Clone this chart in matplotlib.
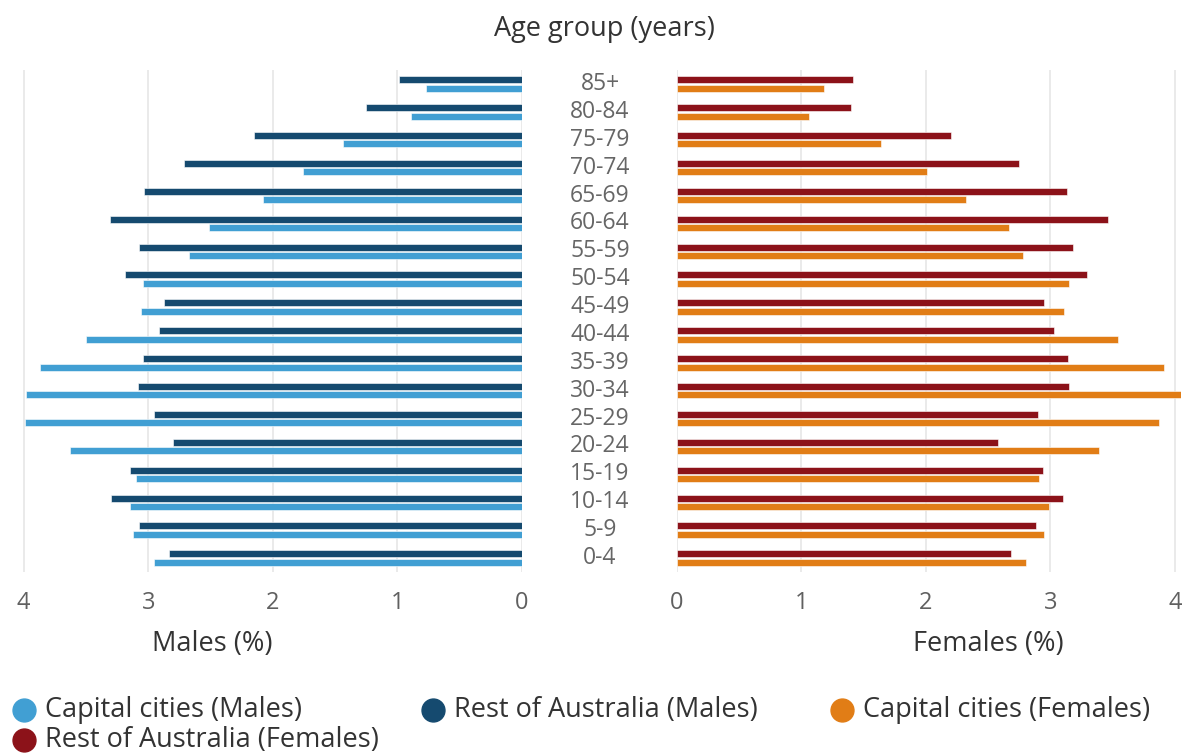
import matplotlib
matplotlib.use("Agg")
import matplotlib.pyplot as plt
import numpy as np
from matplotlib.lines import Line2D

plt.rcParams['font.family'] = ['Open Sans', 'DejaVu Sans']

# ---- data ----
age_groups = ["85+", "80-84", "75-79", "70-74", "65-69", "60-64", "55-59", "50-54",
              "45-49", "40-44", "35-39", "30-34", "25-29", "20-24", "15-19", "10-14",
              "5-9", "0-4"]
capital_males = [0.77, 0.89, 1.44, 1.76, 2.08, 2.51, 2.67, 3.04, 3.06, 3.50,
                 3.87, 3.98, 3.99, 3.63, 3.10, 3.15, 3.12, 2.95]
rest_males = [0.99, 1.25, 2.15, 2.71, 3.03, 3.31, 3.07, 3.19, 2.87, 2.91,
              3.04, 3.08, 2.95, 2.80, 3.15, 3.30, 3.07, 2.83]
capital_females = [1.18, 1.06, 1.64, 2.01, 2.32, 2.67, 2.78, 3.15, 3.11, 3.54,
                   3.91, 4.05, 3.87, 3.39, 2.91, 2.99, 2.95, 2.80]
rest_females = [1.41, 1.40, 2.20, 2.75, 3.13, 3.46, 3.18, 3.29, 2.95, 3.03,
                3.14, 3.15, 2.90, 2.58, 2.94, 3.10, 2.88, 2.68]
x_ticks = [0, 1, 2, 3, 4]
series_names = ["Capital cities (Males)", "Rest of Australia (Males)",
                "Capital cities (Females)", "Rest of Australia (Females)"]

# ---- styles ----
c_cap_m = "#419fd3"
c_rest_m = "#154a6f"
c_cap_f = "#e17d16"
c_rest_f = "#8c1219"
colors = [c_cap_m, c_rest_m, c_cap_f, c_rest_f]
W, H = 1182, 756
fig = plt.figure(figsize=(W / 100, H / 100), dpi=100)

def px_axes(x0, x1, y0, y1):
    return fig.add_axes([x0 / W, 1 - y1 / H, (x1 - x0) / W, (y1 - y0) / H])

y = np.arange(len(age_groups))
bh = 0.25
off = 0.15
xmax = 4.05

axL = px_axes(522 - xmax * 124.6, 522, 70, 572)
axR = px_axes(677, 677 + xmax * 124.5, 70, 572)

axL.barh(y - off, rest_males, height=bh, color=c_rest_m, edgecolor='white', linewidth=0.4)
axL.barh(y + off, capital_males, height=bh, color=c_cap_m, edgecolor='white', linewidth=0.4)
axR.barh(y - off, rest_females, height=bh, color=c_rest_f, edgecolor='white', linewidth=0.4)
axR.barh(y + off, capital_females, height=bh, color=c_cap_f, edgecolor='white', linewidth=0.4)

axL.set_xlim(xmax, 0)
axR.set_xlim(0, xmax)
for ax in (axL, axR):
    ax.set_ylim(len(age_groups) - 0.5, -0.5)
    ax.set_yticks([])
    ax.set_xticks(x_ticks)
    ax.set_xticklabels([str(t) for t in x_ticks])
    ax.tick_params(axis='x', length=0, pad=14, labelsize=17, labelcolor='#606060')
    ax.grid(axis='x', color='#e6e6e6', linewidth=1.2)
    ax.set_axisbelow(True)
    for s in ax.spines.values():
        s.set_visible(False)

# category labels in the middle
for i, lab in enumerate(age_groups):
    axL.annotate(lab, xy=(0, i), xycoords='data', xytext=(78, 0), textcoords='offset pixels',
                 ha='center', va='center', fontsize=16.5, color='#666666')

fig.text(604 / W, 1 - 29 / H, "Age group (years)", ha='center', va='center',
         fontsize=19.5, color='#333333')
fig.text(212 / W, 1 - 644 / H, "Males (%)", ha='center', va='center',
         fontsize=19.5, color='#333333')
fig.text(988 / W, 1 - 644 / H, "Females (%)", ha='center', va='center',
         fontsize=19.5, color='#333333')

# legend
leg_pos = [(24, 710), (433, 710), (842, 710), (24, 740)]
for name, col, (lx, ly) in zip(series_names, colors, leg_pos):
    fig.add_artist(Line2D([lx / W], [1 - ly / H], marker='o', markersize=16.5,
                          color=col, linestyle='none'))
    fig.text((lx + 21) / W, 1 - ly / H, name, ha='left', va='center',
             fontsize=19.5, color='#333333')

fig.savefig("out.png", dpi=100)
